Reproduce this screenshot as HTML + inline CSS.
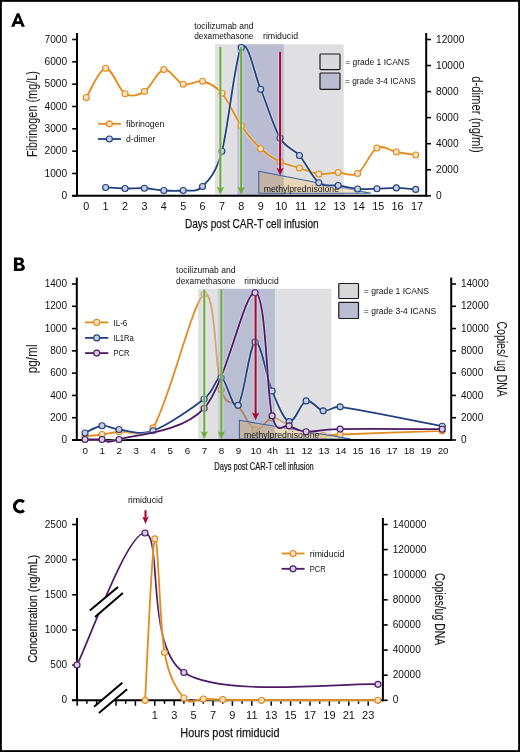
<!DOCTYPE html>
<html><head><meta charset="utf-8"><style>
html,body{margin:0;padding:0;background:#fff;}
body{width:520px;height:752px;overflow:hidden;}
svg{display:block;font-family:"Liberation Sans", sans-serif;will-change:transform;}
</style></head><body>
<svg width="520" height="752" viewBox="0 0 520 752">
<rect x="0" y="0" width="520" height="752" fill="#fff"/>
<rect x="215" y="44.3" width="128.8" height="151.5" fill="#e0e0e3"/>
<rect x="237.4" y="44.3" width="46.4" height="151.5" fill="#babdd2"/>
<clipPath id="tri1"><path d="M258.80,171.30 L371.00,193.30 L258.80,193.30 Z"/></clipPath>
<g clip-path="url(#tri1)" fill-opacity="0.6">
<rect x="257.80" y="170.30" width="26.00" height="24.00" fill="#c9ae87"/>
<rect x="283.80" y="170.30" width="60.00" height="24.00" fill="#edcf9d"/>
<rect x="343.80" y="170.30" width="28.20" height="24.00" fill="#eed5a3"/>
</g>
<path d="M258.80,171.30 L371.00,193.30 L258.80,193.30 Z" fill="none" stroke="#3f62a0" stroke-width="1.1"/>
<text x="263.70" y="191.80" font-size="8.60" text-anchor="start" fill="#111" textLength="75.3" lengthAdjust="spacingAndGlyphs" >methylprednisolone</text>
<rect x="320.00" y="54.00" width="20.00" height="15.60" rx="0.8" fill="#d9d8da" stroke="#1a1a1a" stroke-width="1.2"/>
<rect x="320.00" y="73.00" width="20.00" height="16.30" rx="0.8" fill="#babdd2" stroke="#1a1a1a" stroke-width="1.2"/>
<text x="345.20" y="65.20" font-size="9.40" text-anchor="start" fill="#111" textLength="64.4" lengthAdjust="spacingAndGlyphs" >= grade 1 ICANS</text>
<text x="345.00" y="84.20" font-size="9.40" text-anchor="start" fill="#111" textLength="70.8" lengthAdjust="spacingAndGlyphs" >= grade 3-4 ICANS</text>
<path d="M86.25,97.50 C89.48,92.62 99.17,68.88 105.63,68.25 C112.09,67.62 118.55,89.88 125.01,93.75 C131.47,97.62 137.93,95.54 144.39,91.50 C150.85,87.46 157.31,70.71 163.77,69.50 C170.23,68.29 176.69,82.29 183.15,84.25 C189.61,86.21 196.07,79.75 202.53,81.25 C208.99,82.75 215.45,85.83 221.91,93.25 C228.37,100.67 234.83,116.50 241.29,125.75 C247.75,135.00 254.21,142.75 260.67,148.75 C267.13,154.75 273.59,158.54 280.05,161.75 C286.51,164.96 292.97,165.96 299.43,168.00 C305.89,170.04 312.35,173.25 318.81,174.00 C325.27,174.75 331.73,172.58 338.19,172.50 C344.65,172.42 351.11,177.58 357.57,173.50 C364.03,169.42 370.49,151.58 376.95,148.00 C383.41,144.42 389.87,150.83 396.33,152.00 C402.79,153.17 412.48,154.50 415.71,155.00" fill="none" stroke="#fff" stroke-opacity="0.4" stroke-width="3.40" stroke-linejoin="round"/>
<path d="M86.25,97.50 C89.48,92.62 99.17,68.88 105.63,68.25 C112.09,67.62 118.55,89.88 125.01,93.75 C131.47,97.62 137.93,95.54 144.39,91.50 C150.85,87.46 157.31,70.71 163.77,69.50 C170.23,68.29 176.69,82.29 183.15,84.25 C189.61,86.21 196.07,79.75 202.53,81.25 C208.99,82.75 215.45,85.83 221.91,93.25 C228.37,100.67 234.83,116.50 241.29,125.75 C247.75,135.00 254.21,142.75 260.67,148.75 C267.13,154.75 273.59,158.54 280.05,161.75 C286.51,164.96 292.97,165.96 299.43,168.00 C305.89,170.04 312.35,173.25 318.81,174.00 C325.27,174.75 331.73,172.58 338.19,172.50 C344.65,172.42 351.11,177.58 357.57,173.50 C364.03,169.42 370.49,151.58 376.95,148.00 C383.41,144.42 389.87,150.83 396.33,152.00 C402.79,153.17 412.48,154.50 415.71,155.00" fill="none" stroke="#e38b1c" stroke-width="1.80" stroke-linejoin="round" />
<circle cx="86.25" cy="97.50" r="3.00" fill="#f6e3c6" stroke="#e38b1c" stroke-width="1.15" />
<circle cx="105.63" cy="68.25" r="3.00" fill="#f6e3c6" stroke="#e38b1c" stroke-width="1.15" />
<circle cx="125.01" cy="93.75" r="3.00" fill="#f6e3c6" stroke="#e38b1c" stroke-width="1.15" />
<circle cx="144.39" cy="91.50" r="3.00" fill="#f6e3c6" stroke="#e38b1c" stroke-width="1.15" />
<circle cx="163.77" cy="69.50" r="3.00" fill="#f6e3c6" stroke="#e38b1c" stroke-width="1.15" />
<circle cx="183.15" cy="84.25" r="3.00" fill="#f6e3c6" stroke="#e38b1c" stroke-width="1.15" />
<circle cx="202.53" cy="81.25" r="3.00" fill="#f6e3c6" stroke="#e38b1c" stroke-width="1.15" />
<circle cx="221.91" cy="93.25" r="3.00" fill="#f6e3c6" stroke="#e38b1c" stroke-width="1.15" />
<circle cx="241.29" cy="125.75" r="3.00" fill="#f6e3c6" stroke="#e38b1c" stroke-width="1.15" />
<circle cx="260.67" cy="148.75" r="3.00" fill="#f6e3c6" stroke="#e38b1c" stroke-width="1.15" />
<circle cx="280.05" cy="161.75" r="3.00" fill="#f6e3c6" stroke="#e38b1c" stroke-width="1.15" />
<circle cx="299.43" cy="168.00" r="3.00" fill="#f6e3c6" stroke="#e38b1c" stroke-width="1.15" />
<circle cx="318.81" cy="174.00" r="3.00" fill="#f6e3c6" stroke="#e38b1c" stroke-width="1.15" />
<circle cx="338.19" cy="172.50" r="3.00" fill="#f6e3c6" stroke="#e38b1c" stroke-width="1.15" />
<circle cx="357.57" cy="173.50" r="3.00" fill="#f6e3c6" stroke="#e38b1c" stroke-width="1.15" />
<circle cx="376.95" cy="148.00" r="3.00" fill="#f6e3c6" stroke="#e38b1c" stroke-width="1.15" />
<circle cx="396.33" cy="152.00" r="3.00" fill="#f6e3c6" stroke="#e38b1c" stroke-width="1.15" />
<circle cx="415.71" cy="155.00" r="3.00" fill="#f6e3c6" stroke="#e38b1c" stroke-width="1.15" />
<path d="M105.63,187.50 C108.86,187.67 118.55,188.38 125.01,188.50 C131.47,188.62 137.93,187.92 144.39,188.25 C150.85,188.58 157.31,190.12 163.77,190.50 C170.23,190.88 176.69,191.17 183.15,190.50 C189.61,189.83 196.07,193.04 202.53,186.50 C208.99,179.96 215.45,174.42 221.91,151.25 C228.37,128.08 234.83,57.83 241.29,47.50 C247.75,37.17 254.21,74.17 260.67,89.25 C267.13,104.33 273.59,126.96 280.05,138.00 C286.51,149.04 292.97,148.04 299.43,155.50 C305.89,162.96 312.35,177.75 318.81,182.75 C325.27,187.75 331.73,184.46 338.19,185.50 C344.65,186.54 351.11,188.47 357.57,189.00 C364.03,189.53 370.49,188.88 376.95,188.70 C383.41,188.52 389.87,187.78 396.33,187.90 C402.79,188.02 412.48,189.15 415.71,189.40" fill="none" stroke="#fff" stroke-opacity="0.4" stroke-width="3.40" stroke-linejoin="round"/>
<path d="M105.63,187.50 C108.86,187.67 118.55,188.38 125.01,188.50 C131.47,188.62 137.93,187.92 144.39,188.25 C150.85,188.58 157.31,190.12 163.77,190.50 C170.23,190.88 176.69,191.17 183.15,190.50 C189.61,189.83 196.07,193.04 202.53,186.50 C208.99,179.96 215.45,174.42 221.91,151.25 C228.37,128.08 234.83,57.83 241.29,47.50 C247.75,37.17 254.21,74.17 260.67,89.25 C267.13,104.33 273.59,126.96 280.05,138.00 C286.51,149.04 292.97,148.04 299.43,155.50 C305.89,162.96 312.35,177.75 318.81,182.75 C325.27,187.75 331.73,184.46 338.19,185.50 C344.65,186.54 351.11,188.47 357.57,189.00 C364.03,189.53 370.49,188.88 376.95,188.70 C383.41,188.52 389.87,187.78 396.33,187.90 C402.79,188.02 412.48,189.15 415.71,189.40" fill="none" stroke="#21427f" stroke-width="1.80" stroke-linejoin="round" />
<circle cx="105.63" cy="187.50" r="3.00" fill="#c9cde3" stroke="#21427f" stroke-width="1.15" />
<circle cx="125.01" cy="188.50" r="3.00" fill="#c9cde3" stroke="#21427f" stroke-width="1.15" />
<circle cx="144.39" cy="188.25" r="3.00" fill="#c9cde3" stroke="#21427f" stroke-width="1.15" />
<circle cx="163.77" cy="190.50" r="3.00" fill="#c9cde3" stroke="#21427f" stroke-width="1.15" />
<circle cx="183.15" cy="190.50" r="3.00" fill="#c9cde3" stroke="#21427f" stroke-width="1.15" />
<circle cx="202.53" cy="186.50" r="3.00" fill="#c9cde3" stroke="#21427f" stroke-width="1.15" />
<circle cx="221.91" cy="151.25" r="3.00" fill="#c9cde3" stroke="#21427f" stroke-width="1.15" />
<circle cx="241.29" cy="47.50" r="3.00" fill="#c9cde3" stroke="#21427f" stroke-width="1.15" />
<circle cx="260.67" cy="89.25" r="3.00" fill="#c9cde3" stroke="#21427f" stroke-width="1.15" />
<circle cx="280.05" cy="138.00" r="3.00" fill="#c9cde3" stroke="#21427f" stroke-width="1.15" />
<circle cx="299.43" cy="155.50" r="3.00" fill="#c9cde3" stroke="#21427f" stroke-width="1.15" />
<circle cx="318.81" cy="182.75" r="3.00" fill="#c9cde3" stroke="#21427f" stroke-width="1.15" />
<circle cx="338.19" cy="185.50" r="3.00" fill="#c9cde3" stroke="#21427f" stroke-width="1.15" />
<circle cx="357.57" cy="189.00" r="3.00" fill="#c9cde3" stroke="#21427f" stroke-width="1.15" />
<circle cx="376.95" cy="188.70" r="3.00" fill="#c9cde3" stroke="#21427f" stroke-width="1.15" />
<circle cx="396.33" cy="187.90" r="3.00" fill="#c9cde3" stroke="#21427f" stroke-width="1.15" />
<circle cx="415.71" cy="189.40" r="3.00" fill="#c9cde3" stroke="#21427f" stroke-width="1.15" />
<line x1="220.40" y1="47.00" x2="220.40" y2="188.26" stroke="#fff" stroke-opacity="0.45" stroke-width="3.90"/>
<line x1="220.40" y1="47.00" x2="220.40" y2="190.50" stroke="#6aab3c" stroke-width="2.10"/>
<path d="M216.80,186.70 Q218.96,191.22 220.40,194.50 L220.40,194.50 Q221.84,191.22 224.00,186.70 L220.40,188.42 Z" fill="#6aab3c"/>
<line x1="241.20" y1="47.00" x2="241.20" y2="188.26" stroke="#fff" stroke-opacity="0.45" stroke-width="3.90"/>
<line x1="241.20" y1="47.00" x2="241.20" y2="190.50" stroke="#6aab3c" stroke-width="2.10"/>
<path d="M237.60,186.70 Q239.76,191.22 241.20,194.50 L241.20,194.50 Q242.64,191.22 244.80,186.70 L241.20,188.42 Z" fill="#6aab3c"/>
<line x1="280.10" y1="51.80" x2="280.10" y2="169.36" stroke="#fff" stroke-opacity="0.45" stroke-width="3.90"/>
<line x1="280.10" y1="51.80" x2="280.10" y2="171.60" stroke="#ab0634" stroke-width="2.10"/>
<path d="M276.50,167.80 Q278.66,172.32 280.10,175.60 L280.10,175.60 Q281.54,172.32 283.70,167.80 L280.10,169.52 Z" fill="#ab0634"/>
<text x="194.20" y="28.90" font-size="9.00" text-anchor="start" fill="#111" textLength="59.3" lengthAdjust="spacingAndGlyphs" >tocilizumab and</text>
<text x="194.20" y="39.10" font-size="9.00" text-anchor="start" fill="#111" textLength="59.3" lengthAdjust="spacingAndGlyphs" >dexamethasone</text>
<text x="263.00" y="39.10" font-size="9.00" text-anchor="start" fill="#111" textLength="35.0" lengthAdjust="spacingAndGlyphs" >rimiducid</text>
<line x1="97.90" y1="123.80" x2="120.90" y2="123.80" stroke="#e38b1c" stroke-width="1.8"/>
<circle cx="109.40" cy="123.80" r="3.00" fill="#f6e3c6" stroke="#e38b1c" stroke-width="1.15"/>
<line x1="97.90" y1="139.00" x2="120.90" y2="139.00" stroke="#21427f" stroke-width="1.8"/>
<circle cx="109.40" cy="139.00" r="3.00" fill="#c9cde3" stroke="#21427f" stroke-width="1.15"/>
<text x="126.00" y="127.20" font-size="9.60" text-anchor="start" fill="#111" textLength="38.4" lengthAdjust="spacingAndGlyphs" >fibrinogen</text>
<text x="126.00" y="142.40" font-size="9.60" text-anchor="start" fill="#111" textLength="29.4" lengthAdjust="spacingAndGlyphs" >d-dimer</text>
<path d="M77.0,33.0 L77.0,195.8" fill="none" stroke="#000" stroke-width="2"/>
<line x1="72.0" y1="195.8" x2="426.2" y2="195.8" stroke="#000" stroke-width="2"/>
<line x1="426.2" y1="33.0" x2="426.2" y2="196.8" stroke="#000" stroke-width="2"/>
<line x1="72.2" y1="195.80" x2="77.0" y2="195.80" stroke="#000" stroke-width="1.6"/>
<text x="67.20" y="198.95" font-size="10.20" text-anchor="end" fill="#111" >0</text>
<line x1="72.2" y1="173.47" x2="77.0" y2="173.47" stroke="#000" stroke-width="1.6"/>
<text x="67.20" y="176.62" font-size="10.20" text-anchor="end" fill="#111" >1000</text>
<line x1="72.2" y1="151.14" x2="77.0" y2="151.14" stroke="#000" stroke-width="1.6"/>
<text x="67.20" y="154.29" font-size="10.20" text-anchor="end" fill="#111" >2000</text>
<line x1="72.2" y1="128.81" x2="77.0" y2="128.81" stroke="#000" stroke-width="1.6"/>
<text x="67.20" y="131.96" font-size="10.20" text-anchor="end" fill="#111" >3000</text>
<line x1="72.2" y1="106.49" x2="77.0" y2="106.49" stroke="#000" stroke-width="1.6"/>
<text x="67.20" y="109.64" font-size="10.20" text-anchor="end" fill="#111" >4000</text>
<line x1="72.2" y1="84.16" x2="77.0" y2="84.16" stroke="#000" stroke-width="1.6"/>
<text x="67.20" y="87.31" font-size="10.20" text-anchor="end" fill="#111" >5000</text>
<line x1="72.2" y1="61.83" x2="77.0" y2="61.83" stroke="#000" stroke-width="1.6"/>
<text x="67.20" y="64.98" font-size="10.20" text-anchor="end" fill="#111" >6000</text>
<line x1="72.2" y1="39.50" x2="77.0" y2="39.50" stroke="#000" stroke-width="1.6"/>
<text x="67.20" y="42.65" font-size="10.20" text-anchor="end" fill="#111" >7000</text>
<line x1="426.2" y1="195.80" x2="431.0" y2="195.80" stroke="#000" stroke-width="1.6"/>
<text x="436.00" y="198.95" font-size="10.20" text-anchor="start" fill="#111" >0</text>
<line x1="426.2" y1="169.75" x2="431.0" y2="169.75" stroke="#000" stroke-width="1.6"/>
<text x="436.00" y="172.90" font-size="10.20" text-anchor="start" fill="#111" >2000</text>
<line x1="426.2" y1="143.70" x2="431.0" y2="143.70" stroke="#000" stroke-width="1.6"/>
<text x="436.00" y="146.85" font-size="10.20" text-anchor="start" fill="#111" >4000</text>
<line x1="426.2" y1="117.65" x2="431.0" y2="117.65" stroke="#000" stroke-width="1.6"/>
<text x="436.00" y="120.80" font-size="10.20" text-anchor="start" fill="#111" >6000</text>
<line x1="426.2" y1="91.60" x2="431.0" y2="91.60" stroke="#000" stroke-width="1.6"/>
<text x="436.00" y="94.75" font-size="10.20" text-anchor="start" fill="#111" >8000</text>
<line x1="426.2" y1="65.55" x2="431.0" y2="65.55" stroke="#000" stroke-width="1.6"/>
<text x="436.00" y="68.70" font-size="10.20" text-anchor="start" fill="#111" >10000</text>
<line x1="426.2" y1="39.50" x2="431.0" y2="39.50" stroke="#000" stroke-width="1.6"/>
<text x="436.00" y="42.65" font-size="10.20" text-anchor="start" fill="#111" >12000</text>
<text x="86.25" y="209.60" font-size="10.80" text-anchor="middle" fill="#111" >0</text>
<text x="105.63" y="209.60" font-size="10.80" text-anchor="middle" fill="#111" >1</text>
<text x="125.01" y="209.60" font-size="10.80" text-anchor="middle" fill="#111" >2</text>
<text x="144.39" y="209.60" font-size="10.80" text-anchor="middle" fill="#111" >3</text>
<text x="163.77" y="209.60" font-size="10.80" text-anchor="middle" fill="#111" >4</text>
<text x="183.15" y="209.60" font-size="10.80" text-anchor="middle" fill="#111" >5</text>
<text x="202.53" y="209.60" font-size="10.80" text-anchor="middle" fill="#111" >6</text>
<text x="221.91" y="209.60" font-size="10.80" text-anchor="middle" fill="#111" >7</text>
<text x="241.29" y="209.60" font-size="10.80" text-anchor="middle" fill="#111" >8</text>
<text x="260.67" y="209.60" font-size="10.80" text-anchor="middle" fill="#111" >9</text>
<text x="281.25" y="209.60" font-size="10.80" text-anchor="middle" fill="#111" >10</text>
<text x="300.63" y="209.60" font-size="10.80" text-anchor="middle" fill="#111" >11</text>
<text x="320.01" y="209.60" font-size="10.80" text-anchor="middle" fill="#111" >12</text>
<text x="339.39" y="209.60" font-size="10.80" text-anchor="middle" fill="#111" >13</text>
<text x="358.77" y="209.60" font-size="10.80" text-anchor="middle" fill="#111" >14</text>
<text x="378.15" y="209.60" font-size="10.80" text-anchor="middle" fill="#111" >15</text>
<text x="397.53" y="209.60" font-size="10.80" text-anchor="middle" fill="#111" >16</text>
<text x="416.91" y="209.60" font-size="10.80" text-anchor="middle" fill="#111" >17</text>
<text x="184.90" y="227.90" font-size="13.30" text-anchor="start" fill="#111" textLength="133.8" lengthAdjust="spacingAndGlyphs" stroke="#222" stroke-width="0.25">Days post CAR-T cell infusion</text>
<text transform="translate(36.60,114.05) rotate(-90)" x="0" y="0" font-size="13.80" text-anchor="middle" fill="#1a1a1a" stroke="#1a1a1a" stroke-width="0.05" textLength="86.0" lengthAdjust="spacingAndGlyphs">Fibrinogen (mg/L)</text>
<text transform="translate(472.10,114.50) rotate(90)" x="0" y="0" font-size="14.40" text-anchor="middle" fill="#1a1a1a" stroke="#1a1a1a" stroke-width="0.05" textLength="76.5" lengthAdjust="spacingAndGlyphs">d-dimer (ng/ml)</text>
<path fill="#000" fill-rule="evenodd" d="M11.1,26.8 L16.8,13.3 L19.2,13.3 L24.9,26.8 L21.6,26.8 L20.6,24.0 L15.4,24.0 L14.4,26.8 Z M16.4,21.3 L19.6,21.3 L18.0,16.8 Z"/>
<path d="M85.00,436.25 C87.84,435.96 96.34,435.25 102.01,434.50 C107.68,433.75 110.52,432.87 119.02,431.75 C127.53,430.63 145.95,439.25 153.04,427.80 C169.34,401.47 192.73,300.73 204.07,294.40 C215.41,288.07 215.41,371.27 221.08,389.80 C226.75,408.33 232.42,398.93 238.09,405.60 C243.76,412.27 249.43,427.73 255.10,429.80 C260.77,431.87 266.44,418.72 272.11,418.00 C277.78,417.28 283.45,423.08 289.12,425.50 C294.79,427.92 300.46,430.87 306.13,432.50 C311.80,434.13 317.47,434.97 323.14,435.30 C328.81,435.63 320.31,435.25 340.15,434.50 C360.00,433.75 425.20,431.42 442.21,430.80" fill="none" stroke="#fff" stroke-opacity="0.4" stroke-width="3.40" stroke-linejoin="round"/>
<path d="M85.00,436.25 C87.84,435.96 96.34,435.25 102.01,434.50 C107.68,433.75 110.52,432.87 119.02,431.75 C127.53,430.63 145.95,439.25 153.04,427.80 C169.34,401.47 192.73,300.73 204.07,294.40 C215.41,288.07 215.41,371.27 221.08,389.80 C226.75,408.33 232.42,398.93 238.09,405.60 C243.76,412.27 249.43,427.73 255.10,429.80 C260.77,431.87 266.44,418.72 272.11,418.00 C277.78,417.28 283.45,423.08 289.12,425.50 C294.79,427.92 300.46,430.87 306.13,432.50 C311.80,434.13 317.47,434.97 323.14,435.30 C328.81,435.63 320.31,435.25 340.15,434.50 C360.00,433.75 425.20,431.42 442.21,430.80" fill="none" stroke="#e38b1c" stroke-width="1.80" stroke-linejoin="round" />
<circle cx="85.00" cy="436.25" r="3.00" fill="#f6e3c6" stroke="#e38b1c" stroke-width="1.15" />
<circle cx="102.01" cy="434.50" r="3.00" fill="#f6e3c6" stroke="#e38b1c" stroke-width="1.15" />
<circle cx="119.02" cy="431.75" r="3.00" fill="#f6e3c6" stroke="#e38b1c" stroke-width="1.15" />
<circle cx="153.04" cy="427.80" r="3.00" fill="#f6e3c6" stroke="#e38b1c" stroke-width="1.15" />
<circle cx="204.07" cy="294.40" r="3.00" fill="#f6e3c6" stroke="#e38b1c" stroke-width="1.15" />
<circle cx="221.08" cy="389.80" r="3.00" fill="#f6e3c6" stroke="#e38b1c" stroke-width="1.15" />
<circle cx="238.09" cy="405.60" r="3.00" fill="#f6e3c6" stroke="#e38b1c" stroke-width="1.15" />
<circle cx="255.10" cy="429.80" r="3.00" fill="#f6e3c6" stroke="#e38b1c" stroke-width="1.15" />
<circle cx="272.11" cy="418.00" r="3.00" fill="#f6e3c6" stroke="#e38b1c" stroke-width="1.15" />
<circle cx="289.12" cy="425.50" r="3.00" fill="#f6e3c6" stroke="#e38b1c" stroke-width="1.15" />
<circle cx="306.13" cy="432.50" r="3.00" fill="#f6e3c6" stroke="#e38b1c" stroke-width="1.15" />
<circle cx="323.14" cy="435.30" r="3.00" fill="#f6e3c6" stroke="#e38b1c" stroke-width="1.15" />
<circle cx="340.15" cy="434.50" r="3.00" fill="#f6e3c6" stroke="#e38b1c" stroke-width="1.15" />
<circle cx="442.21" cy="430.80" r="3.00" fill="#f6e3c6" stroke="#e38b1c" stroke-width="1.15" />
<rect x="198.1" y="288.8" width="20.2" height="151.2" fill="#c1c1c7" fill-opacity="0.5"/>
<rect x="274.9" y="288.8" width="56.5" height="151.2" fill="#c1c1c7" fill-opacity="0.5"/>
<rect x="218.3" y="288.8" width="56.6" height="151.2" fill="#757da5" fill-opacity="0.5"/>
<clipPath id="tri2"><path d="M239.40,420.30 L350.80,439.00 L239.40,439.00 Z"/></clipPath>
<g clip-path="url(#tri2)" fill-opacity="0.6">
<rect x="238.40" y="419.30" width="36.50" height="20.70" fill="#c9ae87"/>
<rect x="274.90" y="419.30" width="56.50" height="20.70" fill="#edcf9d"/>
<rect x="331.40" y="419.30" width="20.40" height="20.70" fill="#eed5a3"/>
</g>
<path d="M239.40,420.30 L350.80,439.00 L239.40,439.00 Z" fill="none" stroke="#3f62a0" stroke-width="1.1"/>
<text x="244.00" y="437.80" font-size="8.60" text-anchor="start" fill="#111" textLength="75.3" lengthAdjust="spacingAndGlyphs" >methylprednisolone</text>
<path d="M76.8,277.6 L76.8,440.0" fill="none" stroke="#000" stroke-width="2"/>
<line x1="72.0" y1="440.0" x2="451.2" y2="440.0" stroke="#000" stroke-width="2"/>
<line x1="451.2" y1="277.6" x2="451.2" y2="441.0" stroke="#000" stroke-width="2"/>
<line x1="72.0" y1="440.00" x2="76.8" y2="440.00" stroke="#000" stroke-width="1.6"/>
<text x="67.00" y="443.15" font-size="10.00" text-anchor="end" fill="#111" >0</text>
<line x1="72.0" y1="417.71" x2="76.8" y2="417.71" stroke="#000" stroke-width="1.6"/>
<text x="67.00" y="420.86" font-size="10.00" text-anchor="end" fill="#111" >200</text>
<line x1="72.0" y1="395.43" x2="76.8" y2="395.43" stroke="#000" stroke-width="1.6"/>
<text x="67.00" y="398.58" font-size="10.00" text-anchor="end" fill="#111" >400</text>
<line x1="72.0" y1="373.14" x2="76.8" y2="373.14" stroke="#000" stroke-width="1.6"/>
<text x="67.00" y="376.29" font-size="10.00" text-anchor="end" fill="#111" >600</text>
<line x1="72.0" y1="350.86" x2="76.8" y2="350.86" stroke="#000" stroke-width="1.6"/>
<text x="67.00" y="354.01" font-size="10.00" text-anchor="end" fill="#111" >800</text>
<line x1="72.0" y1="328.57" x2="76.8" y2="328.57" stroke="#000" stroke-width="1.6"/>
<text x="67.00" y="331.72" font-size="10.00" text-anchor="end" fill="#111" >1000</text>
<line x1="72.0" y1="306.29" x2="76.8" y2="306.29" stroke="#000" stroke-width="1.6"/>
<text x="67.00" y="309.44" font-size="10.00" text-anchor="end" fill="#111" >1200</text>
<line x1="72.0" y1="284.00" x2="76.8" y2="284.00" stroke="#000" stroke-width="1.6"/>
<text x="67.00" y="287.15" font-size="10.00" text-anchor="end" fill="#111" >1400</text>
<line x1="451.2" y1="440.00" x2="456.0" y2="440.00" stroke="#000" stroke-width="1.6"/>
<text x="461.00" y="443.15" font-size="10.00" text-anchor="start" fill="#111" >0</text>
<line x1="451.2" y1="417.71" x2="456.0" y2="417.71" stroke="#000" stroke-width="1.6"/>
<text x="461.00" y="420.86" font-size="10.00" text-anchor="start" fill="#111" >2000</text>
<line x1="451.2" y1="395.43" x2="456.0" y2="395.43" stroke="#000" stroke-width="1.6"/>
<text x="461.00" y="398.58" font-size="10.00" text-anchor="start" fill="#111" >4000</text>
<line x1="451.2" y1="373.14" x2="456.0" y2="373.14" stroke="#000" stroke-width="1.6"/>
<text x="461.00" y="376.29" font-size="10.00" text-anchor="start" fill="#111" >6000</text>
<line x1="451.2" y1="350.86" x2="456.0" y2="350.86" stroke="#000" stroke-width="1.6"/>
<text x="461.00" y="354.01" font-size="10.00" text-anchor="start" fill="#111" >8000</text>
<line x1="451.2" y1="328.57" x2="456.0" y2="328.57" stroke="#000" stroke-width="1.6"/>
<text x="461.00" y="331.72" font-size="10.00" text-anchor="start" fill="#111" >10000</text>
<line x1="451.2" y1="306.29" x2="456.0" y2="306.29" stroke="#000" stroke-width="1.6"/>
<text x="461.00" y="309.44" font-size="10.00" text-anchor="start" fill="#111" >12000</text>
<line x1="451.2" y1="284.00" x2="456.0" y2="284.00" stroke="#000" stroke-width="1.6"/>
<text x="461.00" y="287.15" font-size="10.00" text-anchor="start" fill="#111" >14000</text>
<path d="M85.00,433.00 C87.84,431.79 96.34,426.33 102.01,425.75 C107.68,425.17 110.52,428.67 119.02,429.50 C127.53,430.33 138.87,435.83 153.04,430.75 C167.22,425.67 192.73,407.84 204.07,399.00 C215.41,390.16 215.41,376.65 221.08,377.70 C226.75,378.75 232.42,411.23 238.09,405.30 C243.76,399.37 249.43,344.48 255.10,342.10 C260.77,339.72 266.44,377.75 272.11,391.00 C277.78,404.25 283.45,419.95 289.12,421.60 C294.79,423.25 300.46,402.70 306.13,400.90 C311.80,399.10 317.47,409.82 323.14,410.80 C328.81,411.78 333.20,405.90 340.15,406.80 C360.00,409.37 425.20,422.97 442.21,426.20" fill="none" stroke="#fff" stroke-opacity="0.4" stroke-width="3.40" stroke-linejoin="round"/>
<path d="M85.00,433.00 C87.84,431.79 96.34,426.33 102.01,425.75 C107.68,425.17 110.52,428.67 119.02,429.50 C127.53,430.33 138.87,435.83 153.04,430.75 C167.22,425.67 192.73,407.84 204.07,399.00 C215.41,390.16 215.41,376.65 221.08,377.70 C226.75,378.75 232.42,411.23 238.09,405.30 C243.76,399.37 249.43,344.48 255.10,342.10 C260.77,339.72 266.44,377.75 272.11,391.00 C277.78,404.25 283.45,419.95 289.12,421.60 C294.79,423.25 300.46,402.70 306.13,400.90 C311.80,399.10 317.47,409.82 323.14,410.80 C328.81,411.78 333.20,405.90 340.15,406.80 C360.00,409.37 425.20,422.97 442.21,426.20" fill="none" stroke="#21427f" stroke-width="1.80" stroke-linejoin="round" />
<circle cx="85.00" cy="433.00" r="3.00" fill="#c9cde3" stroke="#21427f" stroke-width="1.15" />
<circle cx="102.01" cy="425.75" r="3.00" fill="#c9cde3" stroke="#21427f" stroke-width="1.15" />
<circle cx="119.02" cy="429.50" r="3.00" fill="#c9cde3" stroke="#21427f" stroke-width="1.15" />
<circle cx="153.04" cy="430.75" r="3.00" fill="#c9cde3" stroke="#21427f" stroke-width="1.15" />
<circle cx="204.07" cy="399.00" r="3.00" fill="#c9cde3" stroke="#21427f" stroke-width="1.15" />
<circle cx="221.08" cy="377.70" r="3.00" fill="#c9cde3" stroke="#21427f" stroke-width="1.15" />
<circle cx="238.09" cy="405.30" r="3.00" fill="#c9cde3" stroke="#21427f" stroke-width="1.15" />
<circle cx="255.10" cy="342.10" r="3.00" fill="#c9cde3" stroke="#21427f" stroke-width="1.15" />
<circle cx="272.11" cy="391.00" r="3.00" fill="#c9cde3" stroke="#21427f" stroke-width="1.15" />
<circle cx="289.12" cy="421.60" r="3.00" fill="#c9cde3" stroke="#21427f" stroke-width="1.15" />
<circle cx="306.13" cy="400.90" r="3.00" fill="#c9cde3" stroke="#21427f" stroke-width="1.15" />
<circle cx="323.14" cy="410.80" r="3.00" fill="#c9cde3" stroke="#21427f" stroke-width="1.15" />
<circle cx="340.15" cy="406.80" r="3.00" fill="#c9cde3" stroke="#21427f" stroke-width="1.15" />
<circle cx="442.21" cy="426.20" r="3.00" fill="#c9cde3" stroke="#21427f" stroke-width="1.15" />
<path d="M85.00,439.50 C87.84,439.50 96.34,439.50 102.01,439.50 C107.68,439.50 102.01,444.70 119.02,439.50 C136.03,434.30 181.39,432.77 204.07,408.30 C226.75,383.83 243.76,291.45 255.10,292.70 C266.44,293.95 266.44,393.62 272.11,415.80 C277.78,437.98 283.45,423.15 289.12,425.80 C294.79,428.45 297.62,431.15 306.13,431.70 C314.63,432.25 317.47,429.52 340.15,429.10 C362.83,428.68 425.20,429.18 442.21,429.20" fill="none" stroke="#fff" stroke-opacity="0.4" stroke-width="3.40" stroke-linejoin="round"/>
<path d="M85.00,439.50 C87.84,439.50 96.34,439.50 102.01,439.50 C107.68,439.50 102.01,444.70 119.02,439.50 C136.03,434.30 181.39,432.77 204.07,408.30 C226.75,383.83 243.76,291.45 255.10,292.70 C266.44,293.95 266.44,393.62 272.11,415.80 C277.78,437.98 283.45,423.15 289.12,425.80 C294.79,428.45 297.62,431.15 306.13,431.70 C314.63,432.25 317.47,429.52 340.15,429.10 C362.83,428.68 425.20,429.18 442.21,429.20" fill="none" stroke="#4b1a68" stroke-width="1.80" stroke-linejoin="round" />
<circle cx="85.00" cy="439.50" r="3.00" fill="#d5cde0" stroke="#4b1a68" stroke-width="1.15" />
<circle cx="102.01" cy="439.50" r="3.00" fill="#d5cde0" stroke="#4b1a68" stroke-width="1.15" />
<circle cx="119.02" cy="439.50" r="3.00" fill="#d5cde0" stroke="#4b1a68" stroke-width="1.15" />
<circle cx="204.07" cy="408.30" r="3.00" fill="#d5cde0" stroke="#4b1a68" stroke-width="1.15" />
<circle cx="255.10" cy="292.70" r="3.00" fill="#d5cde0" stroke="#4b1a68" stroke-width="1.15" />
<circle cx="272.11" cy="415.80" r="3.00" fill="#d5cde0" stroke="#4b1a68" stroke-width="1.15" />
<circle cx="289.12" cy="425.80" r="3.00" fill="#d5cde0" stroke="#4b1a68" stroke-width="1.15" />
<circle cx="306.13" cy="431.70" r="3.00" fill="#d5cde0" stroke="#4b1a68" stroke-width="1.15" />
<circle cx="340.15" cy="429.10" r="3.00" fill="#d5cde0" stroke="#4b1a68" stroke-width="1.15" />
<circle cx="442.21" cy="429.20" r="3.00" fill="#d5cde0" stroke="#4b1a68" stroke-width="1.15" />
<line x1="204.30" y1="289.50" x2="204.30" y2="432.76" stroke="#fff" stroke-opacity="0.45" stroke-width="3.90"/>
<line x1="204.30" y1="289.50" x2="204.30" y2="435.00" stroke="#6aab3c" stroke-width="2.10"/>
<path d="M200.70,431.20 Q202.86,435.72 204.30,439.00 L204.30,439.00 Q205.74,435.72 207.90,431.20 L204.30,432.92 Z" fill="#6aab3c"/>
<line x1="221.40" y1="289.50" x2="221.40" y2="432.76" stroke="#fff" stroke-opacity="0.45" stroke-width="3.90"/>
<line x1="221.40" y1="289.50" x2="221.40" y2="435.00" stroke="#6aab3c" stroke-width="2.10"/>
<path d="M217.80,431.20 Q219.96,435.72 221.40,439.00 L221.40,439.00 Q222.84,435.72 225.00,431.20 L221.40,432.92 Z" fill="#6aab3c"/>
<line x1="255.60" y1="295.50" x2="255.60" y2="413.96" stroke="#fff" stroke-opacity="0.45" stroke-width="3.90"/>
<line x1="255.60" y1="295.50" x2="255.60" y2="416.20" stroke="#ab0634" stroke-width="2.10"/>
<path d="M252.00,412.40 Q254.16,416.92 255.60,420.20 L255.60,420.20 Q257.04,416.92 259.20,412.40 L255.60,414.12 Z" fill="#ab0634"/>
<rect x="338.80" y="283.50" width="19.70" height="15.00" rx="0.8" fill="#d9d8da" stroke="#1a1a1a" stroke-width="1.2"/>
<rect x="338.80" y="302.30" width="19.70" height="16.20" rx="0.8" fill="#babdd2" stroke="#1a1a1a" stroke-width="1.2"/>
<text x="363.80" y="294.20" font-size="9.00" text-anchor="start" fill="#111" textLength="65.2" lengthAdjust="spacingAndGlyphs" >= grade 1 ICANS</text>
<text x="363.80" y="313.60" font-size="9.00" text-anchor="start" fill="#111" textLength="72.5" lengthAdjust="spacingAndGlyphs" >= grade 3-4 ICANS</text>
<text x="176.10" y="273.10" font-size="9.00" text-anchor="start" fill="#111" textLength="59.3" lengthAdjust="spacingAndGlyphs" >tocilizumab and</text>
<text x="176.10" y="283.50" font-size="9.00" text-anchor="start" fill="#111" textLength="59.3" lengthAdjust="spacingAndGlyphs" >dexamethasone</text>
<text x="244.20" y="283.50" font-size="9.00" text-anchor="start" fill="#111" textLength="34.5" lengthAdjust="spacingAndGlyphs" >rimiducid</text>
<line x1="85.10" y1="322.40" x2="108.30" y2="322.40" stroke="#e38b1c" stroke-width="1.8"/>
<circle cx="96.70" cy="322.40" r="3.00" fill="#f6e3c6" stroke="#e38b1c" stroke-width="1.15"/>
<line x1="85.10" y1="337.90" x2="108.30" y2="337.90" stroke="#21427f" stroke-width="1.8"/>
<circle cx="96.70" cy="337.90" r="3.00" fill="#c9cde3" stroke="#21427f" stroke-width="1.15"/>
<line x1="85.10" y1="353.10" x2="108.30" y2="353.10" stroke="#4b1a68" stroke-width="1.8"/>
<circle cx="96.70" cy="353.10" r="3.00" fill="#d5cde0" stroke="#4b1a68" stroke-width="1.15"/>
<text x="113.40" y="325.60" font-size="9.40" text-anchor="start" fill="#111" textLength="14.0" lengthAdjust="spacingAndGlyphs" >IL-6</text>
<text x="113.40" y="341.10" font-size="9.40" text-anchor="start" fill="#111" textLength="20.4" lengthAdjust="spacingAndGlyphs" >IL1Ra</text>
<text x="113.40" y="356.30" font-size="9.40" text-anchor="start" fill="#111" textLength="16.0" lengthAdjust="spacingAndGlyphs" >PCR</text>
<text x="85.30" y="453.50" font-size="9.80" text-anchor="middle" fill="#111" >0</text>
<text x="102.31" y="453.50" font-size="9.80" text-anchor="middle" fill="#111" >1</text>
<text x="119.32" y="453.50" font-size="9.80" text-anchor="middle" fill="#111" >2</text>
<text x="136.33" y="453.50" font-size="9.80" text-anchor="middle" fill="#111" >3</text>
<text x="153.34" y="453.50" font-size="9.80" text-anchor="middle" fill="#111" >4</text>
<text x="170.35" y="453.50" font-size="9.80" text-anchor="middle" fill="#111" >5</text>
<text x="187.36" y="453.50" font-size="9.80" text-anchor="middle" fill="#111" >6</text>
<text x="204.37" y="453.50" font-size="9.80" text-anchor="middle" fill="#111" >7</text>
<text x="221.38" y="453.50" font-size="9.80" text-anchor="middle" fill="#111" >8</text>
<text x="238.39" y="453.50" font-size="9.80" text-anchor="middle" fill="#111" >9</text>
<text x="256.00" y="453.50" font-size="9.80" text-anchor="middle" fill="#111" >10</text>
<text x="272.41" y="453.50" font-size="9.80" text-anchor="middle" fill="#111" >4h</text>
<text x="290.02" y="453.50" font-size="9.80" text-anchor="middle" fill="#111" >11</text>
<text x="307.03" y="453.50" font-size="9.80" text-anchor="middle" fill="#111" >12</text>
<text x="324.04" y="453.50" font-size="9.80" text-anchor="middle" fill="#111" >13</text>
<text x="341.05" y="453.50" font-size="9.80" text-anchor="middle" fill="#111" >14</text>
<text x="358.06" y="453.50" font-size="9.80" text-anchor="middle" fill="#111" >15</text>
<text x="375.07" y="453.50" font-size="9.80" text-anchor="middle" fill="#111" >16</text>
<text x="392.08" y="453.50" font-size="9.80" text-anchor="middle" fill="#111" >17</text>
<text x="409.09" y="453.50" font-size="9.80" text-anchor="middle" fill="#111" >18</text>
<text x="426.10" y="453.50" font-size="9.80" text-anchor="middle" fill="#111" >19</text>
<text x="443.11" y="453.50" font-size="9.80" text-anchor="middle" fill="#111" >20</text>
<text x="214.30" y="469.50" font-size="10.20" text-anchor="start" fill="#111" textLength="99.5" lengthAdjust="spacingAndGlyphs" stroke="#222" stroke-width="0.2">Days post CAR-T cell infusion</text>
<text transform="translate(36.60,358.85) rotate(-90)" x="0" y="0" font-size="14.00" text-anchor="middle" fill="#1a1a1a" stroke="#1a1a1a" stroke-width="0.05" textLength="28.8" lengthAdjust="spacingAndGlyphs">pg/ml</text>
<text transform="translate(496.90,359.15) rotate(90)" x="0" y="0" font-size="14.30" text-anchor="middle" fill="#1a1a1a" stroke="#1a1a1a" stroke-width="0.05" textLength="75.3" lengthAdjust="spacingAndGlyphs">Copies/ ug DNA</text>
<path fill="#000" fill-rule="evenodd" d="M13.9,257.5 H19.9 C22.6,257.5 23.9,259.1 23.9,261.0 C23.9,262.4 23.2,263.4 21.9,263.9 C23.8,264.4 24.9,265.9 24.9,267.6 C24.9,269.8 23.2,271.0 20.5,271.0 H13.9 Z M17.2,260.1 H19.4 C20.3,260.1 20.8,260.7 20.8,261.4 C20.8,262.2 20.3,262.7 19.4,262.7 H17.2 Z M17.2,265.3 H20.0 C21.1,265.3 21.7,266.0 21.7,266.9 C21.7,267.8 21.1,268.4 20.0,268.4 H17.2 Z"/>
<path d="M77.0,518.0 L77.0,700.3" fill="none" stroke="#000" stroke-width="2"/>
<line x1="72.0" y1="700.3" x2="382.9" y2="700.3" stroke="#000" stroke-width="2"/>
<line x1="382.9" y1="518.0" x2="382.9" y2="701.3" stroke="#000" stroke-width="2"/>
<line x1="77.20" y1="700.3" x2="77.20" y2="705.8" stroke="#000" stroke-width="1.5"/>
<line x1="86.90" y1="700.3" x2="86.90" y2="703.8" stroke="#000" stroke-width="1.5"/>
<line x1="96.60" y1="700.3" x2="96.60" y2="705.8" stroke="#000" stroke-width="1.5"/>
<line x1="106.30" y1="700.3" x2="106.30" y2="703.8" stroke="#000" stroke-width="1.5"/>
<line x1="116.00" y1="700.3" x2="116.00" y2="705.8" stroke="#000" stroke-width="1.5"/>
<line x1="125.70" y1="700.3" x2="125.70" y2="703.8" stroke="#000" stroke-width="1.5"/>
<line x1="135.40" y1="700.3" x2="135.40" y2="705.8" stroke="#000" stroke-width="1.5"/>
<line x1="145.10" y1="700.3" x2="145.10" y2="703.8" stroke="#000" stroke-width="1.5"/>
<line x1="154.80" y1="700.3" x2="154.80" y2="705.8" stroke="#000" stroke-width="1.5"/>
<line x1="164.50" y1="700.3" x2="164.50" y2="703.8" stroke="#000" stroke-width="1.5"/>
<line x1="174.20" y1="700.3" x2="174.20" y2="705.8" stroke="#000" stroke-width="1.5"/>
<line x1="183.90" y1="700.3" x2="183.90" y2="703.8" stroke="#000" stroke-width="1.5"/>
<line x1="193.60" y1="700.3" x2="193.60" y2="705.8" stroke="#000" stroke-width="1.5"/>
<line x1="203.30" y1="700.3" x2="203.30" y2="703.8" stroke="#000" stroke-width="1.5"/>
<line x1="213.00" y1="700.3" x2="213.00" y2="705.8" stroke="#000" stroke-width="1.5"/>
<line x1="222.70" y1="700.3" x2="222.70" y2="703.8" stroke="#000" stroke-width="1.5"/>
<line x1="232.40" y1="700.3" x2="232.40" y2="705.8" stroke="#000" stroke-width="1.5"/>
<line x1="242.10" y1="700.3" x2="242.10" y2="703.8" stroke="#000" stroke-width="1.5"/>
<line x1="251.80" y1="700.3" x2="251.80" y2="705.8" stroke="#000" stroke-width="1.5"/>
<line x1="261.50" y1="700.3" x2="261.50" y2="703.8" stroke="#000" stroke-width="1.5"/>
<line x1="271.20" y1="700.3" x2="271.20" y2="705.8" stroke="#000" stroke-width="1.5"/>
<line x1="280.90" y1="700.3" x2="280.90" y2="703.8" stroke="#000" stroke-width="1.5"/>
<line x1="290.60" y1="700.3" x2="290.60" y2="705.8" stroke="#000" stroke-width="1.5"/>
<line x1="300.30" y1="700.3" x2="300.30" y2="703.8" stroke="#000" stroke-width="1.5"/>
<line x1="310.00" y1="700.3" x2="310.00" y2="705.8" stroke="#000" stroke-width="1.5"/>
<line x1="319.70" y1="700.3" x2="319.70" y2="703.8" stroke="#000" stroke-width="1.5"/>
<line x1="329.40" y1="700.3" x2="329.40" y2="705.8" stroke="#000" stroke-width="1.5"/>
<line x1="339.10" y1="700.3" x2="339.10" y2="703.8" stroke="#000" stroke-width="1.5"/>
<line x1="348.80" y1="700.3" x2="348.80" y2="705.8" stroke="#000" stroke-width="1.5"/>
<line x1="358.50" y1="700.3" x2="358.50" y2="703.8" stroke="#000" stroke-width="1.5"/>
<line x1="368.20" y1="700.3" x2="368.20" y2="705.8" stroke="#000" stroke-width="1.5"/>
<line x1="377.90" y1="700.3" x2="377.90" y2="703.8" stroke="#000" stroke-width="1.5"/>
<line x1="72.2" y1="700.30" x2="77.0" y2="700.30" stroke="#000" stroke-width="1.6"/>
<text x="67.20" y="703.45" font-size="10.10" text-anchor="end" fill="#111" >0</text>
<line x1="72.2" y1="665.14" x2="77.0" y2="665.14" stroke="#000" stroke-width="1.6"/>
<text x="67.20" y="668.29" font-size="10.10" text-anchor="end" fill="#111" >500</text>
<line x1="72.2" y1="629.98" x2="77.0" y2="629.98" stroke="#000" stroke-width="1.6"/>
<text x="67.20" y="633.13" font-size="10.10" text-anchor="end" fill="#111" >1000</text>
<line x1="72.2" y1="594.82" x2="77.0" y2="594.82" stroke="#000" stroke-width="1.6"/>
<text x="67.20" y="597.97" font-size="10.10" text-anchor="end" fill="#111" >1500</text>
<line x1="72.2" y1="559.66" x2="77.0" y2="559.66" stroke="#000" stroke-width="1.6"/>
<text x="67.20" y="562.81" font-size="10.10" text-anchor="end" fill="#111" >2000</text>
<line x1="72.2" y1="524.50" x2="77.0" y2="524.50" stroke="#000" stroke-width="1.6"/>
<text x="67.20" y="527.65" font-size="10.10" text-anchor="end" fill="#111" >2500</text>
<line x1="382.9" y1="700.30" x2="387.7" y2="700.30" stroke="#000" stroke-width="1.6"/>
<text x="392.70" y="703.45" font-size="10.10" text-anchor="start" fill="#111" >0</text>
<line x1="382.9" y1="675.19" x2="387.7" y2="675.19" stroke="#000" stroke-width="1.6"/>
<text x="392.70" y="678.34" font-size="10.10" text-anchor="start" fill="#111" >20000</text>
<line x1="382.9" y1="650.07" x2="387.7" y2="650.07" stroke="#000" stroke-width="1.6"/>
<text x="392.70" y="653.22" font-size="10.10" text-anchor="start" fill="#111" >40000</text>
<line x1="382.9" y1="624.96" x2="387.7" y2="624.96" stroke="#000" stroke-width="1.6"/>
<text x="392.70" y="628.11" font-size="10.10" text-anchor="start" fill="#111" >60000</text>
<line x1="382.9" y1="599.84" x2="387.7" y2="599.84" stroke="#000" stroke-width="1.6"/>
<text x="392.70" y="602.99" font-size="10.10" text-anchor="start" fill="#111" >80000</text>
<line x1="382.9" y1="574.73" x2="387.7" y2="574.73" stroke="#000" stroke-width="1.6"/>
<text x="392.70" y="577.88" font-size="10.10" text-anchor="start" fill="#111" >100000</text>
<line x1="382.9" y1="549.61" x2="387.7" y2="549.61" stroke="#000" stroke-width="1.6"/>
<text x="392.70" y="552.76" font-size="10.10" text-anchor="start" fill="#111" >120000</text>
<line x1="382.9" y1="524.50" x2="387.7" y2="524.50" stroke="#000" stroke-width="1.6"/>
<text x="392.70" y="527.65" font-size="10.10" text-anchor="start" fill="#111" >140000</text>
<path d="M77.00,665.00 C88.33,643.00 127.18,531.75 145.00,533.00 C162.82,534.25 145.07,647.28 183.90,672.50 C222.73,697.72 345.65,682.33 378.00,684.30" fill="none" stroke="#fff" stroke-opacity="0.4" stroke-width="3.30" stroke-linejoin="round"/>
<path d="M77.00,665.00 C88.33,643.00 127.18,531.75 145.00,533.00 C162.82,534.25 145.07,647.28 183.90,672.50 C222.73,697.72 345.65,682.33 378.00,684.30" fill="none" stroke="#4b1a68" stroke-width="1.70" stroke-linejoin="round" />
<path d="M145.10,700.30 C146.72,673.38 151.57,546.77 154.80,538.80 C158.03,530.83 159.65,625.97 164.50,652.50 C169.35,679.03 177.43,690.25 183.90,698.00 C190.37,705.75 196.83,698.73 203.30,699.00 C209.77,699.27 213.00,699.40 222.70,699.60 C232.40,699.80 235.63,700.10 261.50,700.20 C287.37,700.30 358.50,700.20 377.90,700.20" fill="none" stroke="#fff" stroke-opacity="0.4" stroke-width="3.40" stroke-linejoin="round"/>
<path d="M145.10,700.30 C146.72,673.38 151.57,546.77 154.80,538.80 C158.03,530.83 159.65,625.97 164.50,652.50 C169.35,679.03 177.43,690.25 183.90,698.00 C190.37,705.75 196.83,698.73 203.30,699.00 C209.77,699.27 213.00,699.40 222.70,699.60 C232.40,699.80 235.63,700.10 261.50,700.20 C287.37,700.30 358.50,700.20 377.90,700.20" fill="none" stroke="#e38b1c" stroke-width="1.80" stroke-linejoin="round" />
<circle cx="145.10" cy="700.30" r="3.00" fill="#f6e3c6" stroke="#e38b1c" stroke-width="1.15" />
<circle cx="154.80" cy="538.80" r="3.00" fill="#f6e3c6" stroke="#e38b1c" stroke-width="1.15" />
<circle cx="164.50" cy="652.50" r="3.00" fill="#f6e3c6" stroke="#e38b1c" stroke-width="1.15" />
<circle cx="183.90" cy="698.00" r="3.00" fill="#f6e3c6" stroke="#e38b1c" stroke-width="1.15" />
<circle cx="203.30" cy="699.00" r="3.00" fill="#f6e3c6" stroke="#e38b1c" stroke-width="1.15" />
<circle cx="222.70" cy="699.60" r="3.00" fill="#f6e3c6" stroke="#e38b1c" stroke-width="1.15" />
<circle cx="261.50" cy="700.20" r="3.00" fill="#f6e3c6" stroke="#e38b1c" stroke-width="1.15" />
<circle cx="377.90" cy="700.20" r="3.00" fill="#f6e3c6" stroke="#e38b1c" stroke-width="1.15" />
<circle cx="77.00" cy="665.00" r="3.00" fill="#d5cde0" stroke="#4b1a68" stroke-width="1.15" />
<circle cx="145.00" cy="533.00" r="3.00" fill="#d5cde0" stroke="#4b1a68" stroke-width="1.15" />
<circle cx="183.90" cy="672.50" r="3.00" fill="#d5cde0" stroke="#4b1a68" stroke-width="1.15" />
<circle cx="378.00" cy="684.30" r="3.00" fill="#d5cde0" stroke="#4b1a68" stroke-width="1.15" />
<path d="M89.8,610.6 L118,587 L122.9,593 L95,617 Z" fill="#fff"/>
<line x1="89.8" y1="610.6" x2="118" y2="587" stroke="#000" stroke-width="2"/>
<line x1="95" y1="617" x2="122.9" y2="593" stroke="#000" stroke-width="2"/>
<path d="M94.1,706.7 L122.3,682.8 L127.1,689.2 L98.9,713.1 Z" fill="#fff"/>
<line x1="94.1" y1="706.7" x2="122.3" y2="682.8" stroke="#000" stroke-width="2"/>
<line x1="98.9" y1="713.1" x2="127.1" y2="689.2" stroke="#000" stroke-width="2"/>
<line x1="145.50" y1="510.20" x2="145.50" y2="518.00" stroke="#fff" stroke-opacity="0.45" stroke-width="3.90"/>
<line x1="145.50" y1="510.20" x2="145.50" y2="520.00" stroke="#ab0634" stroke-width="2.10"/>
<path d="M142.20,516.50 Q144.18,520.85 145.50,524.00 L145.50,524.00 Q146.82,520.85 148.80,516.50 L145.50,518.15 Z" fill="#ab0634"/>
<text x="145.40" y="503.30" font-size="8.20" text-anchor="middle" fill="#111" textLength="35.0" lengthAdjust="spacingAndGlyphs" >rimiducid</text>
<text x="154.80" y="718.60" font-size="11.00" text-anchor="middle" fill="#111" >1</text>
<text x="174.20" y="718.60" font-size="11.00" text-anchor="middle" fill="#111" >3</text>
<text x="193.60" y="718.60" font-size="11.00" text-anchor="middle" fill="#111" >5</text>
<text x="213.00" y="718.60" font-size="11.00" text-anchor="middle" fill="#111" >7</text>
<text x="232.40" y="718.60" font-size="11.00" text-anchor="middle" fill="#111" >9</text>
<text x="251.80" y="718.60" font-size="11.00" text-anchor="middle" fill="#111" >11</text>
<text x="271.20" y="718.60" font-size="11.00" text-anchor="middle" fill="#111" >13</text>
<text x="290.60" y="718.60" font-size="11.00" text-anchor="middle" fill="#111" >15</text>
<text x="310.00" y="718.60" font-size="11.00" text-anchor="middle" fill="#111" >17</text>
<text x="329.40" y="718.60" font-size="11.00" text-anchor="middle" fill="#111" >19</text>
<text x="348.80" y="718.60" font-size="11.00" text-anchor="middle" fill="#111" >21</text>
<text x="368.20" y="718.60" font-size="11.00" text-anchor="middle" fill="#111" >23</text>
<line x1="281.50" y1="553.50" x2="304.60" y2="553.50" stroke="#e38b1c" stroke-width="1.8"/>
<circle cx="293.05" cy="553.50" r="3.00" fill="#f6e3c6" stroke="#e38b1c" stroke-width="1.15"/>
<line x1="281.50" y1="568.80" x2="304.60" y2="568.80" stroke="#4b1a68" stroke-width="1.8"/>
<circle cx="293.05" cy="568.80" r="3.00" fill="#d5cde0" stroke="#4b1a68" stroke-width="1.15"/>
<text x="309.80" y="556.80" font-size="9.20" text-anchor="start" fill="#111" textLength="34.8" lengthAdjust="spacingAndGlyphs" >rimiducid</text>
<text x="309.80" y="572.10" font-size="9.20" text-anchor="start" fill="#111" textLength="15.9" lengthAdjust="spacingAndGlyphs" >PCR</text>
<text x="180.30" y="737.30" font-size="13.30" text-anchor="start" fill="#111" textLength="99.2" lengthAdjust="spacingAndGlyphs" stroke="#222" stroke-width="0.25">Hours post rimiducid</text>
<text transform="translate(36.60,608.80) rotate(-90)" x="0" y="0" font-size="12.60" text-anchor="middle" fill="#1a1a1a" stroke="#1a1a1a" stroke-width="0.20" textLength="108.0" lengthAdjust="spacingAndGlyphs">Concentration (ng/mL)</text>
<text transform="translate(434.60,609.20) rotate(90)" x="0" y="0" font-size="13.80" text-anchor="middle" fill="#1a1a1a" stroke="#1a1a1a" stroke-width="0.15" textLength="72.2" lengthAdjust="spacingAndGlyphs">Copies/ug DNA</text>
<path fill="none" stroke="#000" stroke-width="3.2" d="M23.9,502.0 A5.65,5.65 0 1 0 23.9,510.5"/>
<rect x="0.9" y="0.9" width="518.2" height="750.2" fill="none" stroke="#000" stroke-width="1.9"/>
</svg>
</body></html>
